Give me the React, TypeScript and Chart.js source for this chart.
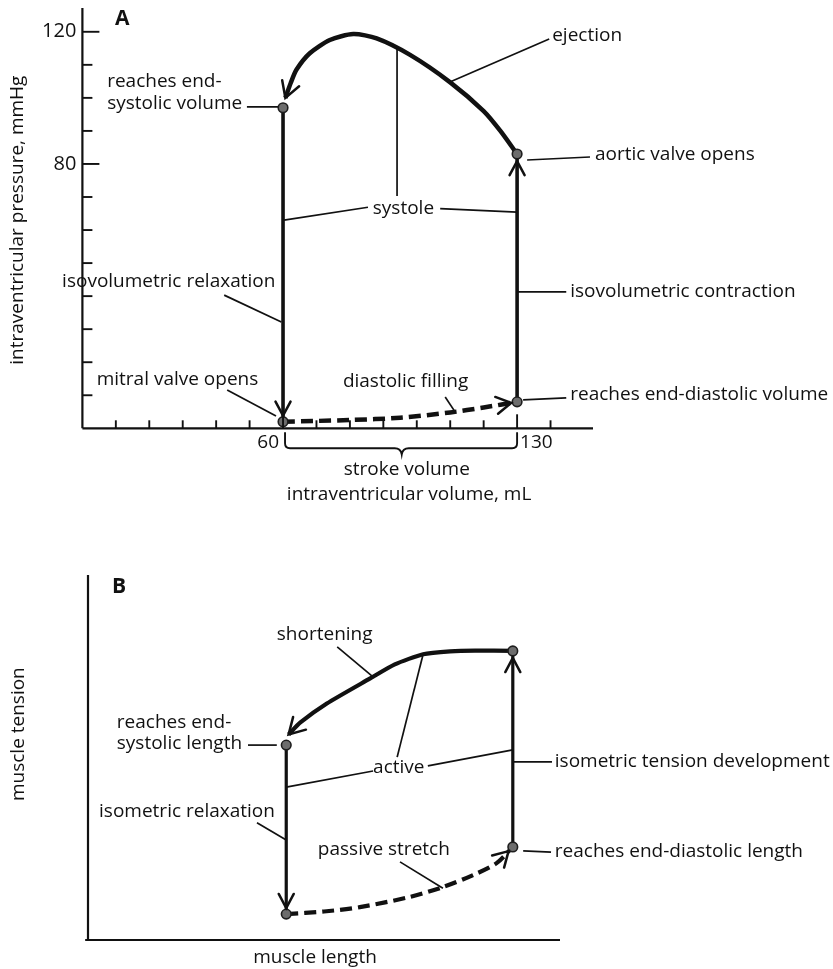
import React, { useEffect, useRef } from "react";
import { Chart, registerables } from "chart.js";
Chart.register(...registerables);

const FONT = "'Open Sans', 'DejaVu Sans', sans-serif";
const INK = "#111111";
const TXT = `19px ${FONT}`;

// ---------- Panel A: pressure–volume loop ----------
const ejectionVolume = [130, 125, 120, 110, 98, 88, 81, 74, 68, 64, 62.3, 60.7];
const ejectionPressure = [83, 90, 96, 104.7, 113, 118, 119.3, 117.5, 113.5, 108.5, 104.5, 100];
const relaxationVolume = [60, 60];
const relaxationPressure = [97, 2];
const fillingVolume = [60, 80, 95, 110, 120, 130];
const fillingPressure = [2, 2.5, 3.2, 4.8, 6.3, 8];
const contractionVolume = [130, 130];
const contractionPressure = [8, 83];
const cornerVolume = [60, 130, 130, 60];
const cornerPressure = [97, 83, 8, 2];
const volumeTicks = [10, 20, 30, 40, 50, 60, 70, 80, 90, 100, 110, 120, 130, 140];
const volumeTickLabels = [60, 130];
const pressureTicks = [10, 20, 30, 40, 50, 60, 70, 80, 90, 100, 110, 120];
const pressureTickLabels = [80, 120];

// ---------- Panel B: length–tension loop (arbitrary units) ----------
const shorteningLength = [90, 82, 76.7, 71, 65, 59.7, 50.6, 45, 42.5];
const shorteningTension = [79.2, 79.3, 79.1, 78.3, 75.5, 71.6, 64.8, 59.6, 56.3];
const relaxLength = [42, 42];
const relaxTension = [53.4, 7.1];
const stretchLength = [42, 50, 57.6, 68.2, 75.2, 81.6, 86.5, 90];
const stretchTension = [7.1, 7.8, 9, 11.8, 14.5, 17.8, 21, 25.5];
const developLength = [90, 90];
const developTension = [25.5, 79.2];
const cornerLength = [42, 90, 90, 42];
const cornerTension = [53.4, 79.2, 25.5, 7.1];

const pts = (xs: number[], ys: number[]) => xs.map((x, i) => ({ x, y: ys[i] }));

const markerDs = (xs: number[], ys: number[]) => ({
  data: pts(xs, ys),
  showLine: false,
  pointRadius: 4.8,
  pointBackgroundColor: "#6d6d6d",
  pointBorderColor: "#1e1e1e",
  pointBorderWidth: 1.6,
  clip: false,
});

const lineDs = (xs: number[], ys: number[], extra: any) => ({
  data: pts(xs, ys),
  showLine: true,
  borderColor: INK,
  pointRadius: 0,
  fill: false,
  clip: false,
  borderCapStyle: "butt",
  ...extra,
});

const diagramPlugin = {
  id: "diagram",
  afterDatasetsDraw(chart: any, _a: any, o: any) {
    const { ctx, scales } = chart;
    const px = (v: number) => scales.x.getPixelForValue(v);
    const py = (v: number) => scales.y.getPixelForValue(v);
    ctx.save();
    ctx.strokeStyle = INK;
    ctx.fillStyle = INK;
    ctx.lineCap = "round";

    // arrows at the end of datasets
    chart.data.datasets.forEach((ds: any, i: number) => {
      if (!ds.arrow) return;
      const data = chart.getDatasetMeta(i).data;
      const n = data.length;
      const last = data[n - 1];
      let fx = data[n - 2].x, fy = data[n - 2].y;
      if (last.cp1x !== undefined && Math.hypot(last.x - last.cp1x, last.y - last.cp1y) > 0.5) {
        fx = last.cp1x; fy = last.cp1y;
      }
      const ang = Math.atan2(last.y - fy, last.x - fx);
      const gap = ds.arrowGap || 0;
      const tx = last.x - gap * Math.cos(ang), ty = last.y - gap * Math.sin(ang);
      const L = ds.arrowLen || 16;
      const h = ((ds.arrowSpread || 28) * Math.PI) / 180;
      ctx.lineWidth = 2.5;
      ctx.setLineDash([]);
      ctx.beginPath();
      ctx.moveTo(tx - L * Math.cos(ang - h), ty - L * Math.sin(ang - h));
      ctx.lineTo(tx, ty);
      ctx.lineTo(tx - L * Math.cos(ang + h), ty - L * Math.sin(ang + h));
      ctx.stroke();
    });

    // axes
    const ax = o.axis;
    ctx.lineWidth = 2.2;
    ctx.lineCap = "butt";
    ctx.beginPath();
    ctx.moveTo(px(ax.x0), py(ax.yTop));
    ctx.lineTo(px(ax.x0), py(ax.y0));
    ctx.moveTo(px(ax.xStart), py(ax.y0));
    ctx.lineTo(px(ax.xEnd), py(ax.y0));
    ctx.stroke();

    ctx.lineWidth = 1.9;
    (o.xTicks || []).forEach((t: number) => {
      const len = (o.xTickLabels || []).includes(t) ? 14 : 8;
      ctx.beginPath();
      ctx.moveTo(px(t), py(ax.y0));
      ctx.lineTo(px(t), py(ax.y0) - len);
      ctx.stroke();
    });
    (o.yTicks || []).forEach((t: number) => {
      const len = (o.yTickLabels || []).includes(t) ? 17 : 10;
      ctx.beginPath();
      ctx.moveTo(px(ax.x0), py(t));
      ctx.lineTo(px(ax.x0) + len, py(t));
      ctx.stroke();
    });
    ctx.textBaseline = "middle";
    ctx.font = `20px ${FONT}`;
    ctx.textAlign = "right";
    (o.yTickLabels || []).forEach((t: number) => ctx.fillText(String(t), px(ax.x0) - 6, py(t)));
    ctx.font = `19px ${FONT}`;
    (o.xTickLabels || []).forEach((t: number, i: number) => {
      ctx.textAlign = i === 0 ? "right" : "left";
      ctx.fillText(String(t), px(t) + (i === 0 ? -4 : 3), py(ax.y0) + 14);
    });

    // bracket
    if (o.bracket) {
      const b = o.bracket;
      const xl = px(b.from) + 2, xr = px(b.to), xc = px(b.mid);
      const yTop = py(0) + 4, yLine = py(0) + 20, yTip = py(0) + 26;
      ctx.lineWidth = 1.9;
      ctx.beginPath();
      ctx.moveTo(xl, yTop);
      ctx.lineTo(xl, yLine - 5);
      ctx.quadraticCurveTo(xl, yLine, xl + 5, yLine);
      ctx.lineTo(xc - 7, yLine);
      ctx.quadraticCurveTo(xc - 1, yLine, xc, yTip);
      ctx.quadraticCurveTo(xc + 1, yLine, xc + 7, yLine);
      ctx.lineTo(xr - 5, yLine);
      ctx.quadraticCurveTo(xr, yLine, xr, yLine - 5);
      ctx.lineTo(xr, yTop);
      ctx.stroke();
    }

    // leader lines
    ctx.lineWidth = 1.7;
    ctx.lineCap = "butt";
    (o.leaders || []).forEach((l: number[]) => {
      ctx.beginPath();
      ctx.moveTo(px(l[0]), py(l[1]));
      ctx.lineTo(px(l[2]), py(l[3]));
      ctx.stroke();
    });

    // texts
    (o.texts || []).forEach((t: any) => {
      ctx.font = t.font || TXT;
      ctx.textAlign = t.align || "left";
      ctx.textBaseline = "middle";
      ctx.fillText(t.t, px(t.x), py(t.y));
    });

    if (o.yTitle) {
      ctx.save();
      ctx.translate(px(o.yTitle.x), py(o.yTitle.y));
      ctx.rotate(-Math.PI / 2);
      ctx.font = TXT;
      ctx.textAlign = "center";
      ctx.textBaseline = "middle";
      ctx.fillText(o.yTitle.t, 0, 0);
      ctx.restore();
    }
    ctx.restore();
  },
};

function baseOptions(padding: any, xMax: number, yMax: number, diagram: any) {
  return {
    responsive: false,
    animation: false,
    devicePixelRatio: 1,
    layout: { padding },
    scales: {
      x: { type: "linear", min: 0, max: xMax, display: false },
      y: { type: "linear", min: 0, max: yMax, display: false },
    },
    plugins: { legend: { display: false }, tooltip: { enabled: false }, diagram },
    events: [],
  };
}

const configA = () => ({
  type: "scatter",
  data: {
    datasets: [
      markerDs(cornerVolume, cornerPressure),
      lineDs(ejectionVolume, ejectionPressure, { borderWidth: 4.5, tension: 0.25, arrow: true, arrowGap: 0, arrowLen: 18, arrowSpread: 30 }),
      lineDs(relaxationVolume, relaxationPressure, { borderWidth: 3.6, arrow: true, arrowGap: 6, arrowLen: 16, arrowSpread: 28 }),
      lineDs(fillingVolume, fillingPressure, { borderWidth: 4.5, borderDash: [12, 6], tension: 0.3, arrow: true, arrowGap: 6, arrowLen: 17, arrowSpread: 30 }),
      lineDs(contractionVolume, contractionPressure, { borderWidth: 3.6, arrow: true, arrowGap: 7, arrowLen: 16, arrowSpread: 28 }),
    ],
  },
  options: baseOptions({ left: 82.4, right: 240, top: 8, bottom: 91.7 }, 152.7, 127.2, {
    axis: { x0: 0, y0: 0, yTop: 127.2, xStart: 0, xEnd: 152.7 },
    xTicks: volumeTicks,
    xTickLabels: volumeTickLabels,
    yTicks: pressureTicks,
    yTickLabels: pressureTickLabels,
    bracket: { from: 60, to: 130, mid: 95.5 },
    yTitle: { t: "intraventricular pressure, mmHg", x: -19.5, y: 63 },
    leaders: [
      [49.2, 97.3, 58.5, 97.3],
      [109.9, 104.8, 139.6, 117.8],
      [133, 81.2, 151.8, 82.1],
      [85.4, 66.9, 60.3, 63],
      [107, 66.5, 130, 65.4],
      [94.1, 115.4, 94.1, 70.3],
      [42.4, 40.3, 59.5, 32.2],
      [130, 41.3, 144.7, 41.3],
      [43.3, 11.6, 57.9, 3.7],
      [108.5, 9.5, 111.5, 4.9],
      [131.8, 8.6, 144.7, 9.2],
    ],
    texts: [
      { t: "A", x: 9.75, y: 123.8, font: `bold 21px ${FONT}` },
      { t: "reaches end-", x: 7.4, y: 104.8 },
      { t: "systolic volume", x: 7.4, y: 98.4 },
      { t: "ejection", x: 140.5, y: 118.7 },
      { t: "aortic valve opens", x: 153.3, y: 82.7 },
      { t: "systole", x: 96, y: 66.6, align: "center" },
      { t: "isovolumetric relaxation", x: 57.7, y: 44.3, align: "right" },
      { t: "isovolumetric contraction", x: 145.9, y: 41.3 },
      { t: "mitral valve opens", x: 52.6, y: 14.6, align: "right" },
      { t: "diastolic filling", x: 77.9, y: 14 },
      { t: "reaches end-diastolic volume", x: 145.9, y: 10.1 },
      { t: "stroke volume", x: 97, y: -12.6, align: "center" },
      { t: "intraventricular volume, mL", x: 97.7, y: -20, align: "center" },
    ],
  }),
  plugins: [diagramPlugin],
});

const configB = () => ({
  type: "scatter",
  data: {
    datasets: [
      markerDs(cornerLength, cornerTension),
      lineDs(shorteningLength, shorteningTension, { borderWidth: 4.2, tension: 0.2, arrow: true, arrowGap: 0, arrowLen: 18, arrowSpread: 30 }),
      lineDs(relaxLength, relaxTension, { borderWidth: 3.2, arrow: true, arrowGap: 6, arrowLen: 16, arrowSpread: 28 }),
      lineDs(stretchLength, stretchTension, { borderWidth: 4.2, borderDash: [12, 6], tension: 0.3, arrow: true, arrowGap: 6, arrowLen: 17, arrowSpread: 30 }),
      lineDs(developLength, developTension, { borderWidth: 3.2, arrow: true, arrowGap: 7, arrowLen: 16, arrowSpread: 28 }),
    ],
  },
  options: baseOptions({ left: 88, right: 273, top: 55, bottom: 29 }, 100, 100, {
    axis: { x0: 0, y0: 0, yTop: 100, xStart: -0.6, xEnd: 100 },
    yTitle: { t: "muscle tension", x: -14.8, y: 56.4 },
    leaders: [
      [52.8, 80.3, 60.2, 72.3],
      [33.9, 53.4, 40, 53.4],
      [60.4, 46.3, 42, 41.9],
      [72, 47.7, 90, 52.1],
      [65.5, 50.1, 71, 78.3],
      [90, 48.8, 98.3, 48.8],
      [35.8, 32.1, 42, 27.4],
      [66.1, 21.4, 75.2, 14.2],
      [92.2, 24.4, 98.1, 24.1],
    ],
    texts: [
      { t: "B", x: 5.1, y: 96.7, font: `bold 21px ${FONT}` },
      { t: "shortening", x: 40, y: 83.8 },
      { t: "reaches end-", x: 6.1, y: 59.5 },
      { t: "systolic length", x: 6.1, y: 53.7 },
      { t: "active", x: 60.4, y: 47.1 },
      { t: "isometric tension development", x: 98.9, y: 48.8 },
      { t: "isometric relaxation", x: 39.6, y: 35.1, align: "right" },
      { t: "passive stretch", x: 48.7, y: 24.7 },
      { t: "reaches end-diastolic length", x: 98.9, y: 24.1 },
      { t: "muscle length", x: 48.1, y: -4.9, align: "center" },
    ],
  }),
  plugins: [diagramPlugin],
});

export default function App() {
  const refA = useRef<HTMLCanvasElement>(null);
  const refB = useRef<HTMLCanvasElement>(null);
  useEffect(() => {
    const a = new Chart(refA.current as any, configA() as any);
    const b = new Chart(refB.current as any, configB() as any);
    return () => {
      a.destroy();
      b.destroy();
    };
  }, []);
  return (
    <div style={{ position: "absolute", left: 0, top: 0, width: 833, height: 969, background: "#fff" }}>
      <canvas ref={refA} width={833} height={520} style={{ display: "block", width: 833, height: 520 }} />
      <canvas ref={refB} width={833} height={449} style={{ display: "block", width: 833, height: 449 }} />
    </div>
  );
}
